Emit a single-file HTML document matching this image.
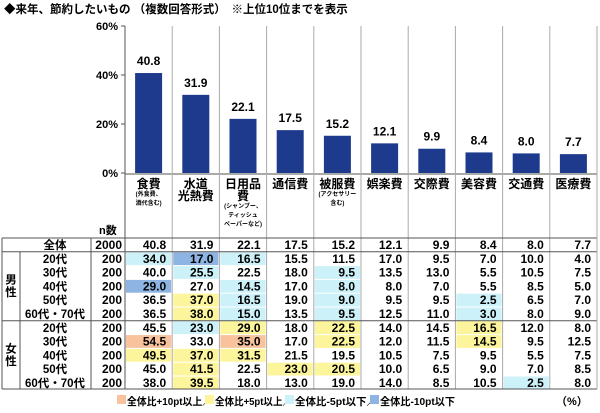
<!DOCTYPE html>
<html><head><meta charset="utf-8"><style>
body{margin:0;background:#fff;}
svg text{font-family:"Liberation Sans","Noto Sans CJK JP",sans-serif;font-weight:bold;fill:#000;}
</style></head><body>
<svg id="c" width="600" height="408" viewBox="0 0 600 408" xmlns="http://www.w3.org/2000/svg">
<text x="4" y="13" font-size="11.5">◆来年、節約したいもの （複数回答形式）　※上位10位までを表示</text>
<g id="g"></g>
</svg>
<script>
const categories=["食費","水道光熱費","日用品費","通信費","被服費","娯楽費","交際費","美容費","交通費","医療費"];
const overall=[40.8,31.9,22.1,17.5,15.2,12.1,9.9,8.4,8.0,7.7];
const yTicks=[0,20,40,60];
const rowLabels=["20代","30代","40代","50代","60代・70代","20代","30代","40代","50代","60代・70代"];
const rowN=[200,200,200,200,200,200,200,200,200,200];
const rowValues=[
[34.0,17.0,16.5,15.5,11.5,17.0,9.5,7.0,10.0,4.0],
[40.0,25.5,22.5,18.0,9.5,13.5,13.0,5.5,10.5,7.5],
[29.0,27.0,14.5,17.0,8.0,8.0,7.0,5.5,8.5,5.0],
[36.5,37.0,16.5,19.0,9.0,9.5,9.5,2.5,6.5,7.0],
[36.5,38.0,15.0,13.5,9.5,12.5,11.0,3.0,8.0,9.0],
[45.5,23.0,29.0,18.0,22.5,14.0,14.5,16.5,12.0,8.0],
[54.5,33.0,35.0,17.0,22.5,12.0,11.5,14.5,9.5,12.5],
[49.5,37.0,31.5,21.5,19.5,10.5,7.5,9.5,5.5,7.5],
[45.0,41.5,22.5,23.0,20.5,10.0,6.5,9.0,7.0,8.5],
[38.0,39.5,18.0,13.0,19.0,14.0,8.5,10.5,2.5,8.0]];
const sub=[["(外食費、","酒代含む)"],[],["(シャンプー、","ティッシュ","ペーパーなど)"],[],["(アクセサリー","含む)"],[],[],[],[],[]];
const NS="http://www.w3.org/2000/svg";
const g=document.getElementById('g');
function mk(t,a,txt){const e=document.createElementNS(NS,t);for(const k in a)e.setAttribute(k,a[k]);if(txt!=null)e.textContent=txt;g.appendChild(e);return e;}
const X0=125,CW=47.2,Y0=173,Y1=26;
const y=v=>Y0-(v/60)*(Y0-Y1);
const cx=i=>X0+CW*i+CW/2;
for(let i=1;i<=10;i++){const l=mk('line',{x1:X0+CW*i,x2:X0+CW*i,y1:Y1,y2:389,stroke:'#aaa','stroke-width':1});
}
mk('line',{x1:X0,x2:597,y1:Y0+1,y2:Y0+1,stroke:'#aaa','stroke-width':2});
let ax=mk('line',{x1:X0,x2:X0,y1:Y1,y2:389,stroke:'#555','stroke-width':1});

yTicks.forEach(t=>{mk('line',{x1:X0-4,x2:X0,y1:y(t),y2:y(t),stroke:'#555'});
const e=mk('text',{x:X0-7,y:y(t)+4,'font-size':11,'text-anchor':'end','font-weight':'normal'},t+'%');
});
overall.forEach((v,i)=>{const b=mk('rect',{x:cx(i)-13.5,y:y(v),width:27,height:Y0-y(v),fill:'#1e3a8c'});

const t=mk('text',{x:cx(i),y:y(v)-8,'font-size':12,'text-anchor':'middle','font-weight':'normal'},v.toFixed(1));
});
categories.forEach((c,i)=>{let lines=[c];if(c==='水道光熱費')lines=['水道','光熱費'];if(c==='日用品費')lines=['日用品','費'];
let yy=188;lines.forEach(s=>{const t=mk('text',{x:cx(i),y:yy,'font-size':12,'text-anchor':'middle'},s);
yy+=12;});
yy-=4;sub[i].forEach(s=>{const t=mk('text',{x:cx(i),y:yy,'font-size':6,'text-anchor':'middle'},s);
yy+=9;});});
let nl=mk('text',{x:99,y:234,'font-size':11},'n数');
const RT=238,RH=13.8;
function color(v,o){const d=v-o;if(d>=10)return '#f8c39c';if(d>=5)return '#fdf59c';if(d<=-10)return '#8db4e2';if(d<=-5)return '#cdf1f8';return null;}
function row(top,label,n,vals,lx,anchor){
const t=mk('text',{x:lx,y:top+11,'font-size':11.5,'text-anchor':anchor},label);

const nn=mk('text',{x:122,y:top+11,'font-size':12,'text-anchor':'end'},n);

vals.forEach((v,i)=>{const col=label==='全体'?null:color(v,overall[i]);
if(col){const r=mk('rect',{x:X0+CW*i+1,y:top+0.5,width:CW-2,height:RH-1,fill:col});}
const e=mk('text',{x:X0+CW*(i+1)-6,y:top+11,'font-size':12,'text-anchor':'end'},v.toFixed(1));
});}
row(RT,'全体',2000,overall,55,'middle');
rowValues.forEach((vals,r)=>{row(RT+RH+RH*r,rowLabels[r],rowN[r],vals,55,'middle');});
[RT,RT+RH,RT+RH*6,389].forEach(yy=>mk('line',{x1:2,x2:597,y1:yy,y2:yy,stroke:'#555','stroke-width':1}));
mk('line',{x1:2,x2:2,y1:RT,y2:389,stroke:'#555'});
mk('line',{x1:20,x2:20,y1:RT+RH,y2:389,stroke:'#555'});
mk('line',{x1:91,x2:91,y1:RT,y2:389,stroke:'#555'});
mk('line',{x1:597,x2:597,y1:Y1,y2:389,stroke:'#aaa'});
[['男',RT+RH*3.3],['性',RT+RH*4.2],['女',RT+RH*8.3],['性',RT+RH*9.2]].forEach(a=>{const t=mk('text',{x:11,y:a[1],'font-size':11.5,'text-anchor':'middle'},a[0]);
});
[['#f8c39c',117,'全体比+10pt以上／',85],['#fdf59c',205,'全体比+5pt以上／',77],['#cdf1f8',285,'全体比-5pt以下／',82],['#8db4e2',370,'全体比-10pt以下',75]].forEach(a=>{
const r=mk('rect',{x:a[1],y:395,width:9,height:9,fill:a[0]});
const t=mk('text',{x:a[1]+10,y:405,'font-size':10.5,textLength:a[3],lengthAdjust:'spacingAndGlyphs'},a[2]);});
let pc=mk('text',{x:556,y:405,'font-size':11},'（%）');
</script>
</body></html>
